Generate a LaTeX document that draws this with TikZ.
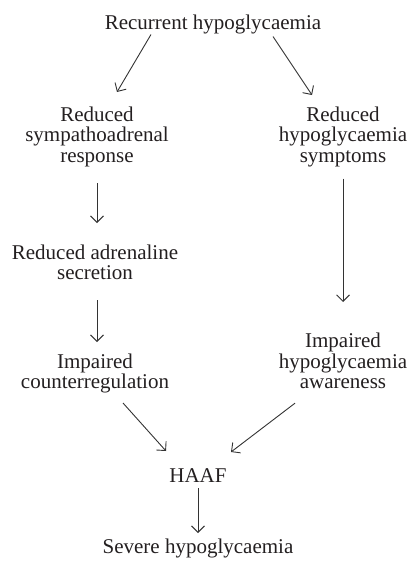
\documentclass[tikz,border=0pt]{standalone}
\usepackage{fontspec}
\setmainfont{Liberation Serif}
\usepackage{tikz}
\usetikzlibrary{arrows.meta}
\definecolor{ink}{HTML}{231F20}
\definecolor{lineink}{HTML}{333333}

\begin{document}
\begin{tikzpicture}[x=1pt,y=-1pt,
  txt/.style={anchor=north,align=center,inner sep=0pt,text=ink,font=\fontsize{21}{20.5}\selectfont},
  arr/.style={draw=lineink,line width=0.9pt,-{Straight Barb[length=6.5pt,width=13pt]}}]
\useasboundingbox (0,0) rectangle (410,562);
\node[txt] (rec) at (213,14.5) {Recurrent hypoglycaemia};
\node[txt] (sym) at (97,106.5) {Reduced\\sympathoadrenal\\response};
\node[txt] (rsy) at (343,106.5) {Reduced\\hypoglycaemia\\symptoms};
\node[txt] (adr) at (95,244.5) {Reduced adrenaline\\secretion};
\node[txt] (cr) at (95,353.5) {Impaired\\counterregulation};
\node[txt] (aw) at (343,333) {Impaired\\hypoglycaemia\\awareness};
\node[txt] (haaf) at (198,468) {HAAF};
\node[txt] (sev) at (198,538.5) {Severe hypoglycaemia};
% left branch
\draw[arr] ([xshift=-62pt,yshift=-0.5pt]rec.south) -- ([xshift=20pt,yshift=14.5pt]sym.north);
\draw[arr] ([yshift=-16.5pt]sym.south) -- ([xshift=2pt,yshift=21.5pt]adr.north);
\draw[arr] ([xshift=2pt,yshift=-20pt]adr.south) -- ([xshift=2pt,yshift=11.5pt]cr.north);
\draw[arr] ([xshift=28pt,yshift=-9.5pt]cr.south) -- ([xshift=-32pt,yshift=17pt]haaf.north);
% right branch
\draw[arr] ([xshift=60pt,yshift=-2.5pt]rec.south) -- ([xshift=-31pt,yshift=11.5pt]rsy.north);
\draw[arr] ([yshift=-11.5pt]rsy.south) -- ([yshift=31pt]aw.north);
\draw[arr] ([xshift=-48pt,yshift=-14pt]aw.south) -- ([xshift=33pt,yshift=16pt]haaf.north);
% outcome
\draw[arr] ([yshift=-6pt]haaf.south) -- ([yshift=5.5pt]sev.north);
\end{tikzpicture}
\end{document}
